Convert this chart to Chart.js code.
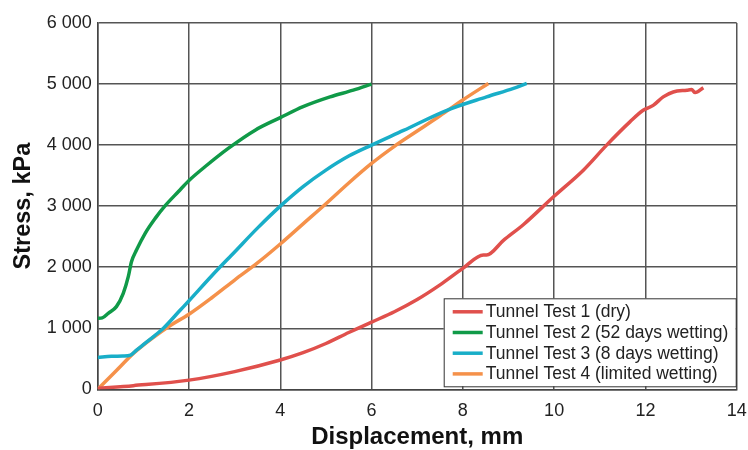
<!DOCTYPE html>
<html>
<head>
<meta charset="utf-8">
<script src="https://cdn.jsdelivr.net/npm/chart.js@4/dist/chart.umd.min.js"></script>
<style>
  html, body { margin: 0; padding: 0; background: #fff; }
  #wrap { width: 748px; height: 450px; }
</style>
</head>
<body>
<div id="wrap"><canvas id="chart" width="748" height="450"></canvas></div>
<script>
// Tunnel test stress-displacement curves (displacement in mm, stress in kPa)
const seriesLabels = [
  "Tunnel Test 1 (dry)",
  "Tunnel Test 2 (52 days wetting)",
  "Tunnel Test 3 (8 days wetting)",
  "Tunnel Test 4 (limited wetting)"
];
const seriesColors = ["#e0504c", "#109a48", "#19aec8", "#f5914a"];

const test1X = [0, 0.78, 2.0, 3.0, 4.0, 4.5, 5.0, 5.5, 6.0, 6.5, 7.0, 7.5, 8.0, 8.45, 8.52, 8.89, 9.33, 9.98, 10.64, 11.15, 11.66, 11.95, 12.17, 12.39, 12.61, 12.91, 13.01, 13.09, 13.27];
const test1Y = [15, 60, 150, 290, 480, 600, 750, 930, 1100, 1270, 1470, 1710, 1980, 2200, 2200, 2440, 2700, 3150, 3590, 4000, 4380, 4570, 4650, 4790, 4870, 4900, 4910, 4860, 4940];

const test2X = [0, 0.1, 0.23, 0.41, 0.56, 0.67, 0.74, 0.85, 1.04, 1.26, 1.47, 1.77, 2.0, 2.35, 2.86, 3.45, 4.0, 4.5, 5.09, 5.6, 6.0];
const test2Y = [1163, 1170, 1245, 1354, 1572, 1845, 2090, 2281, 2555, 2800, 3000, 3240, 3420, 3645, 3946, 4245, 4450, 4630, 4790, 4900, 5000];

const test3X = [0, 0.3, 0.55, 0.72, 0.85, 1.0, 1.25, 1.44, 1.8, 2.0, 2.5, 3.0, 3.5, 4.0, 4.5, 5.0, 5.5, 6.0, 6.7, 7.65, 8.52, 9.11, 9.4];
const test3Y = [520, 540, 545, 560, 640, 730, 880, 1000, 1290, 1450, 1860, 2250, 2640, 3000, 3320, 3590, 3820, 4000, 4240, 4570, 4790, 4930, 5010];

const test4X = [0, 0.4, 0.8, 1.2, 1.6, 2.0, 2.5, 3.0, 3.5, 4.0, 4.5, 5.0, 5.5, 6.0, 6.5, 7.0, 7.5, 8.0, 8.56];
const test4Y = [0, 300, 600, 840, 1050, 1230, 1500, 1790, 2070, 2380, 2710, 3040, 3380, 3700, 3980, 4230, 4480, 4740, 5010];

const xTicks = [0, 2, 4, 6, 8, 10, 12, 14];
const yTicks = [0, 1000, 2000, 3000, 4000, 5000, 6000];

const allX = [test1X, test2X, test3X, test4X];
const allY = [test1Y, test2Y, test3Y, test4Y];

const FONT = "'Liberation Sans', Arial, sans-serif";

function toPoints(xs, ys) {
  return xs.map((x, i) => ({ x: x, y: ys[i] }));
}

// "6000" -> "6 000"
function spaced(v) {
  return String(v).replace(/\B(?=(\d{3})+(?!\d))/g, " ");
}

// Boxed legend in the lower right corner of the plot area
const insideLegend = {
  id: "insideLegend",
  afterDraw(chart) {
    const ctx = chart.ctx;
    const area = chart.chartArea;
    const w = 292, h = 88, rowH = 20.7;
    const left = area.right - w - 1;
    const top = area.bottom - h - 3;
    ctx.save();
    ctx.fillStyle = "#fff";
    ctx.fillRect(left, top, w, h);
    ctx.strokeStyle = "#333";
    ctx.lineWidth = 1;
    ctx.strokeRect(left + 0.5, top + 0.5, w, h);
    ctx.font = "17.5px " + FONT;
    ctx.textBaseline = "middle";
    ctx.textAlign = "left";
    chart.data.datasets.forEach((ds, i) => {
      const y = top + 13.5 + i * rowH;
      ctx.strokeStyle = ds.borderColor;
      ctx.lineWidth = 3.5;
      ctx.beginPath();
      ctx.moveTo(left + 9, y);
      ctx.lineTo(left + 39, y);
      ctx.stroke();
      ctx.fillStyle = "#222";
      ctx.fillText(ds.label, left + 42, y + 0.5);
    });
    ctx.restore();
  }
};

new Chart(document.getElementById("chart"), {
  type: "scatter",
  data: {
    datasets: seriesLabels.map((label, i) => ({
      label: label,
      data: toPoints(allX[i], allY[i]),
      showLine: true,
      borderColor: seriesColors[i],
      backgroundColor: seriesColors[i],
      borderWidth: 3.5,
      pointRadius: 0,
      cubicInterpolationMode: "monotone",
    })),
  },
  plugins: [insideLegend],
  options: {
    responsive: false,
    animation: false,
    layout: { padding: { top: 23, right: 0, bottom: 0, left: 0 } },
    plugins: {
      legend: { display: false },
      tooltip: { enabled: false },
    },
    scales: {
      x: {
        type: "linear",
        min: 0,
        max: 14,
        afterBuildTicks: (scale) => { scale.ticks = xTicks.map((v) => ({ value: v })); },
        afterFit: (scale) => {
          scale.height = 60.7;
          scale.paddingLeft = 0;
          scale.paddingRight = 11.3;
        },
        ticks: {
          padding: 11,
          color: "#222",
          font: { family: FONT, size: 18 },
        },
        grid: { color: "#555", lineWidth: 1.5, drawTicks: false },
        border: { color: "#444", width: 1.5 },
        title: {
          display: true,
          text: "Displacement, mm",
          color: "#111",
          font: { family: FONT, size: 24, weight: "bold", lineHeight: 1 },
          padding: { top: 0, bottom: 1 },
        },
      },
      y: {
        type: "linear",
        min: 0,
        max: 6000,
        afterBuildTicks: (scale) => { scale.ticks = yTicks.map((v) => ({ value: v })); },
        afterFit: (scale) => { scale.width = 97.7; },
        ticks: {
          padding: 6,
          color: "#222",
          callback: (v) => spaced(v),
          font: { family: FONT, size: 18 },
        },
        grid: { color: "#555", lineWidth: 1.5, drawTicks: false },
        border: { color: "#444", width: 1.5 },
        title: {
          display: true,
          text: "Stress, kPa",
          color: "#111",
          font: { family: FONT, size: 23.5, weight: "bold", lineHeight: 1 },
          padding: { top: 12, bottom: 0 },
        },
      },
    },
  },
});
</script>
</body>
</html>
